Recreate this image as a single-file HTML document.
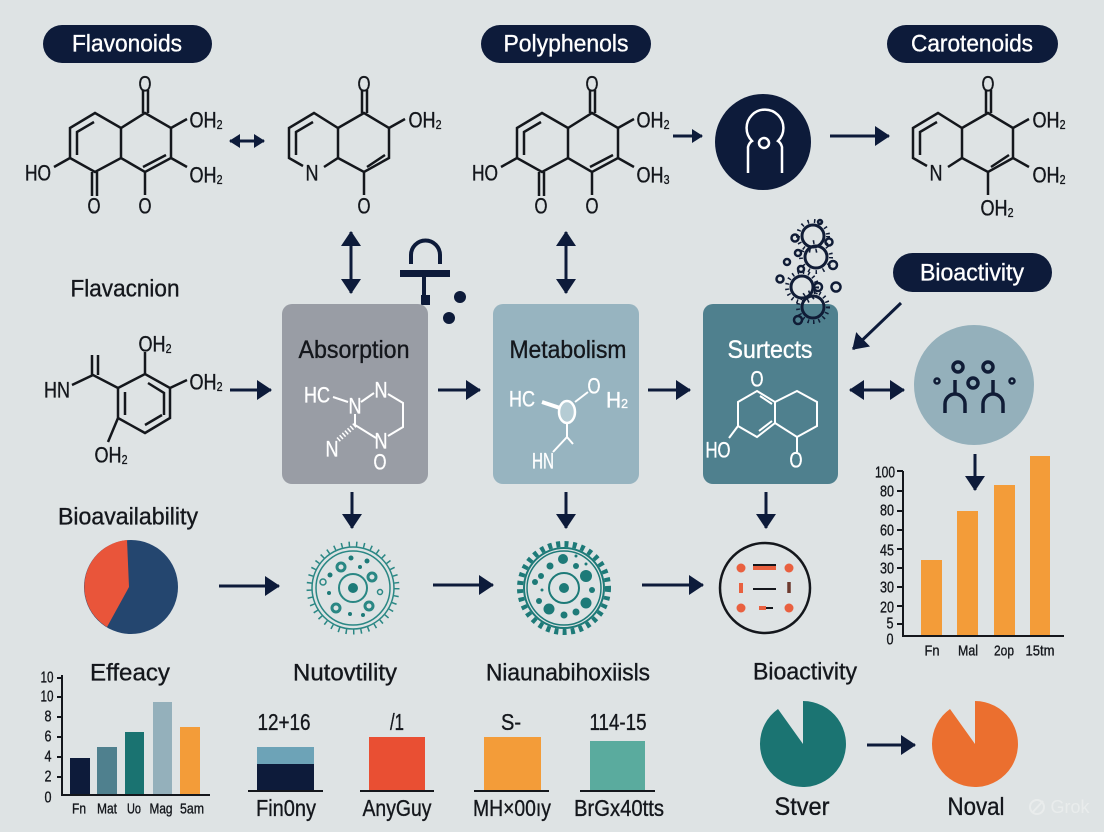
<!DOCTYPE html>
<html><head><meta charset="utf-8"><style>
html,body{margin:0;padding:0;background:#dee3e4}
svg{display:block}
text{font-family:"Liberation Sans",sans-serif;text-anchor:middle;dominant-baseline:central;fill:#14171c;stroke:#14171c;stroke-width:.35}
text.w{fill:#fff;stroke:#fff}
text.wm{fill:#e9ecec;stroke:none}
.chem{font-size:22px}
.sub{font-size:13px}
.t{font-size:24px}
.s{font-size:15px}
.n{font-size:16px}
.l{font-size:23px}
.m{fill:none;stroke:#14171c;stroke-width:2.5}
.wl{fill:none;stroke:#fff;stroke-width:2}
.a{stroke:#0d1b3a;stroke-width:3;fill:none}
.g{fill:#1d7a78}
.k{stroke:#14171c;stroke-width:2;fill:none}
</style></head><body>
<svg width="1104" height="832" viewBox="0 0 1104 832" xmlns="http://www.w3.org/2000/svg">
<defs>
<marker id="h" markerUnits="userSpaceOnUse" markerWidth="16" markerHeight="22" refX="14" refY="11" orient="auto-start-reverse"><path d="M0 1L15 11L0 21Z" fill="#0d1b3a"/></marker>
<marker id="s" markerUnits="userSpaceOnUse" markerWidth="12" markerHeight="16" refX="10" refY="8" orient="auto-start-reverse"><path d="M0 1L11 8L0 15Z" fill="#0d1b3a"/></marker>
<g id="molA"><path class="m" d="M70 128L95 113L121 128L145 113L171 128V158L145 172L121 158L95 172L70 158ZM121 128V158M77 155V132L94 122M143 167L166 155M143 90V113M148 90V113M171 128L187 119M171 158L187 167M70 158L54 167M92 172V196M97 172V196M145 172V195"/></g>
<g id="molB"><path class="m" d="M303 166L289 158V128L314 113L338 128L364 113L389 128V158L364 172L338 158L324 167M338 128V158M296 155V132L313 122M367 167L385 155M362 90V113M367 90V113M389 128L405 119M364 172V195"/></g>
</defs>
<rect width="1104" height="832" fill="#dee3e4"/>

<!-- pills -->
<rect x="43" y="25" width="169" height="38" rx="19" fill="#0d1b3a"/>
<text class="w t" x="127" y="44" textLength="110" lengthAdjust="spacingAndGlyphs">Flavonoids</text>
<rect x="481" y="25" width="170" height="38" rx="19" fill="#0d1b3a"/>
<text class="w t" x="566" y="44" textLength="125" lengthAdjust="spacingAndGlyphs">Polyphenols</text>
<rect x="887" y="25" width="171" height="38" rx="19" fill="#0d1b3a"/>
<text class="w t" x="972" y="44" textLength="122" lengthAdjust="spacingAndGlyphs">Carotenoids</text>
<rect x="893" y="253" width="159" height="39" rx="19.5" fill="#0d1b3a"/>
<text class="w t" x="972" y="273" textLength="104" lengthAdjust="spacingAndGlyphs">Bioactivity</text>

<!-- molecules row 1 -->
<use href="#molA"/>
<text class="chem" x="145" y="84" textLength="13" lengthAdjust="spacingAndGlyphs">O</text>
<text class="chem" x="206" y="120" textLength="33" lengthAdjust="spacingAndGlyphs">OH<tspan class="sub" dy="4">2</tspan></text>
<text class="chem" x="206" y="175" textLength="33" lengthAdjust="spacingAndGlyphs">OH<tspan class="sub" dy="4">2</tspan></text>
<text class="chem" x="38" y="173" textLength="26" lengthAdjust="spacingAndGlyphs">HO</text>
<text class="chem" x="94" y="206" textLength="13" lengthAdjust="spacingAndGlyphs">O</text>
<text class="chem" x="145" y="206" textLength="13" lengthAdjust="spacingAndGlyphs">O</text>

<use href="#molB"/>
<text class="chem" x="364" y="84" textLength="13" lengthAdjust="spacingAndGlyphs">O</text>
<text class="chem" x="425" y="120" textLength="33" lengthAdjust="spacingAndGlyphs">OH<tspan class="sub" dy="4">2</tspan></text>
<text class="chem" x="312" y="173" textLength="13" lengthAdjust="spacingAndGlyphs">N</text>
<text class="chem" x="364" y="206" textLength="13" lengthAdjust="spacingAndGlyphs">O</text>

<use href="#molA" x="447"/>
<text class="chem" x="592" y="84" textLength="13" lengthAdjust="spacingAndGlyphs">O</text>
<text class="chem" x="653" y="120" textLength="33" lengthAdjust="spacingAndGlyphs">OH<tspan class="sub" dy="4">2</tspan></text>
<text class="chem" x="653" y="175" textLength="33" lengthAdjust="spacingAndGlyphs">OH<tspan class="sub" dy="4">3</tspan></text>
<text class="chem" x="485" y="173" textLength="26" lengthAdjust="spacingAndGlyphs">HO</text>
<text class="chem" x="541" y="206" textLength="13" lengthAdjust="spacingAndGlyphs">O</text>
<text class="chem" x="592" y="206" textLength="13" lengthAdjust="spacingAndGlyphs">O</text>

<use href="#molB" x="624"/>
<path class="m" d="M1013 158L1029 167"/>
<text class="chem" x="988" y="84" textLength="13" lengthAdjust="spacingAndGlyphs">O</text>
<text class="chem" x="1049" y="120" textLength="33" lengthAdjust="spacingAndGlyphs">OH<tspan class="sub" dy="4">2</tspan></text>
<text class="chem" x="1049" y="175" textLength="33" lengthAdjust="spacingAndGlyphs">OH<tspan class="sub" dy="4">2</tspan></text>
<text class="chem" x="936" y="173" textLength="13" lengthAdjust="spacingAndGlyphs">N</text>
<text class="chem" x="997" y="208" textLength="33" lengthAdjust="spacingAndGlyphs">OH<tspan class="sub" dy="4">2</tspan></text>

<!-- icon circle -->
<circle cx="763" cy="142" r="48" fill="#0d1b3a"/>
<path d="M748 173V147Q749 143 752 141A18.4 18.4 0 1 1 778 141Q781 143 782 147V173" fill="none" stroke="#fff" stroke-width="2.5"/>
<circle cx="764" cy="143" r="5" fill="none" stroke="#fff" stroke-width="2.5"/>

<!-- arrows top -->
<path class="a" d="M230 141H264" marker-start="url(#s)" marker-end="url(#s)"/>
<path class="a" d="M673 136H702" marker-end="url(#s)"/>
<path class="a" d="M830 136H889" marker-end="url(#h)"/>
<path class="a" d="M351 232V293" marker-start="url(#h)" marker-end="url(#h)"/>
<path class="a" d="M566 232V293" marker-start="url(#h)" marker-end="url(#h)"/>

<!-- lock icon -->
<path d="M411 264V255A14.5 14.5 0 0 1 440 255V264" fill="none" stroke="#0d1b3a" stroke-width="4"/>
<rect x="400" y="270" width="50" height="7" fill="#0d1b3a"/>
<rect x="422" y="277" width="4" height="20" fill="#0d1b3a"/>
<rect x="421" y="295" width="9" height="10" fill="#0d1b3a"/>
<circle cx="460" cy="297" r="6" fill="#0d1b3a"/>
<circle cx="449" cy="318" r="6" fill="#0d1b3a"/>

<!-- boxes -->
<rect x="282" y="304" width="146" height="180" rx="10" fill="#999da5"/>
<rect x="493" y="304" width="146" height="180" rx="10" fill="#97b4c0"/>
<rect x="703" y="304" width="135" height="180" rx="10" fill="#4f808e"/>
<text x="354" y="350" font-size="25" textLength="111" lengthAdjust="spacingAndGlyphs">Absorption</text>
<text x="568" y="350" font-size="25" textLength="117" lengthAdjust="spacingAndGlyphs">Metabolism</text>
<text class="w" x="770" y="350" font-size="25" textLength="85" lengthAdjust="spacingAndGlyphs">Surtects</text>

<!-- absorption chem -->
<path class="wl" d="M333 397L348 402M361 402L374 393M388 394L403 403V427L388 436M355 414V425L376 438"/>
<path d="M355 425L338 440" stroke="#fff" stroke-width="5" stroke-dasharray="1.5 2" fill="none"/>
<text class="w chem" x="317" y="395" textLength="26" lengthAdjust="spacingAndGlyphs">HC</text>
<text class="w chem" x="355" y="406" textLength="13" lengthAdjust="spacingAndGlyphs">N</text>
<text class="w chem" x="381" y="390" textLength="13" lengthAdjust="spacingAndGlyphs">N</text>
<text class="w chem" x="332" y="449" textLength="13" lengthAdjust="spacingAndGlyphs">N</text>
<text class="w chem" x="381" y="441" textLength="13" lengthAdjust="spacingAndGlyphs">N</text>
<text class="w chem" x="380" y="462" textLength="13" lengthAdjust="spacingAndGlyphs">O</text>

<!-- metabolism chem -->
<path d="M542 402L560 408" stroke="#fff" stroke-width="4" fill="none"/>
<ellipse cx="567" cy="412" rx="8" ry="11" fill="#b5ccd4" stroke="#fff" stroke-width="2.5"/>
<path class="wl" d="M575 402L588 392M567 423V437L553 452M567 437L573 444"/>
<text class="w chem" x="522" y="399" textLength="26" lengthAdjust="spacingAndGlyphs">HC</text>
<text class="w chem" x="594" y="386" textLength="13" lengthAdjust="spacingAndGlyphs">O</text>
<text class="w chem" x="617" y="400" textLength="22" lengthAdjust="spacingAndGlyphs">H<tspan class="sub" dy="3">2</tspan></text>
<text class="w chem" x="543" y="461" textLength="22" lengthAdjust="spacingAndGlyphs">HN</text>

<!-- surtects chem -->
<path class="wl" d="M757 391L775 402V423L757 437L738 426V402ZM775 402L797 391L817 402V426L797 437L775 423M760 396L772 404M759 431L772 421M738 426L729 438M797 437V452"/>
<text class="w chem" x="757" y="379" textLength="13" lengthAdjust="spacingAndGlyphs">O</text>
<text class="w chem" x="718" y="450" textLength="25" lengthAdjust="spacingAndGlyphs">HO</text>
<text class="w chem" x="796" y="460" textLength="13" lengthAdjust="spacingAndGlyphs">O</text>

<!-- bacteria cluster -->
<g fill="none" stroke="#101c36">
<circle cx="813" cy="236" r="11" stroke-width="3"/><circle cx="813" cy="236" r="15" stroke-width="4" stroke-dasharray="1.5 5"/>
<circle cx="816" cy="257" r="11" stroke-width="3"/><circle cx="816" cy="257" r="15" stroke-width="4" stroke-dasharray="1.5 6"/>
<circle cx="802" cy="287" r="11" stroke-width="3"/><circle cx="802" cy="287" r="15" stroke-width="4" stroke-dasharray="1.5 4"/>
<circle cx="813" cy="307" r="11" stroke-width="3"/><circle cx="813" cy="307" r="15" stroke-width="4" stroke-dasharray="1.5 4"/>
<g stroke-width="2.5"><circle cx="795" cy="238" r="3.5"/><circle cx="829" cy="242" r="3.5"/><circle cx="798" cy="253" r="3"/><circle cx="787" cy="262" r="3"/><circle cx="833" cy="265" r="4"/><circle cx="801" cy="269" r="3"/><circle cx="780" cy="279" r="3.5"/><circle cx="836" cy="287" r="4.5"/><circle cx="798" cy="320" r="4"/><circle cx="820" cy="222" r="2"/><circle cx="818" cy="287" r="4"/></g>
</g>

<!-- right circle -->
<circle cx="974" cy="385" r="60" fill="#94b0bb"/>
<g fill="none" stroke="#101c36" stroke-width="3.5">
<circle cx="958" cy="367" r="5"/><circle cx="988" cy="367" r="5"/><circle cx="973" cy="383" r="5"/>
<circle cx="937" cy="381" r="2.5" stroke-width="2.5"/><circle cx="1012" cy="381" r="2.5" stroke-width="2.5"/>
<path d="M955 380V394M945 413V404A10 10 0 0 1 965 404V413M993 380V394M983 413V404A10 10 0 0 1 1003 404V413"/>
</g>

<!-- Flavacnion -->
<text class="t" x="125" y="289" textLength="109" lengthAdjust="spacingAndGlyphs">Flavacnion</text>
<path class="m" d="M118 388L145 374L170 388V418L145 433L118 418ZM125 392V415M148 383L164 393V415M145 425L162 415M72 385L93 375L118 388M92 355V375M98 355V375M145 352V374M170 388L187 380M118 418L108 442"/>
<text class="chem" x="57" y="390" textLength="26" lengthAdjust="spacingAndGlyphs">HN</text>
<text class="chem" x="155" y="344" textLength="33" lengthAdjust="spacingAndGlyphs">OH<tspan class="sub" dy="4">2</tspan></text>
<text class="chem" x="206" y="382" textLength="33" lengthAdjust="spacingAndGlyphs">OH<tspan class="sub" dy="4">2</tspan></text>
<text class="chem" x="111" y="455" textLength="33" lengthAdjust="spacingAndGlyphs">OH<tspan class="sub" dy="4">2</tspan></text>

<!-- mid arrows -->
<path class="a" d="M230 390H271" marker-end="url(#h)"/>
<path class="a" d="M438 390H480" marker-end="url(#h)"/>
<path class="a" d="M648 390H690" marker-end="url(#h)"/>
<path class="a" d="M850 390H904" marker-start="url(#h)" marker-end="url(#h)"/>
<path class="a" d="M901 303L853 349" marker-end="url(#h)"/>
<path class="a" d="M352 492V528" marker-end="url(#h)"/>
<path class="a" d="M566 492V528" marker-end="url(#h)"/>
<path class="a" d="M766 492V528" marker-end="url(#h)"/>
<path class="a" d="M975 454V490" marker-end="url(#h)"/>

<!-- row 3 -->
<text class="t" x="128" y="517" textLength="140" lengthAdjust="spacingAndGlyphs">Bioavailability</text>
<circle cx="131" cy="587" r="47" fill="#24466f"/>
<path d="M129 587L127 540A47 47 0 0 0 107 627Z" fill="#e9553a"/>
<path class="a" d="M219 586H279" marker-end="url(#h)"/>
<path class="a" d="M433 585H493" marker-end="url(#h)"/>
<path class="a" d="M642 585H703" marker-end="url(#h)"/>

<!-- gear 1 -->
<g fill="none" stroke="#2a8784">
<circle cx="353" cy="588" r="44" stroke-width="5" stroke-dasharray="1.5 6"/>
<circle cx="353" cy="588" r="41" stroke-width="1.5"/>
<circle cx="353" cy="588" r="37" stroke-width="1.5"/>
<circle cx="353" cy="588" r="14" stroke-width="2"/>
<circle cx="341" cy="567" r="4" stroke-width="3"/><circle cx="372" cy="577" r="4" stroke-width="3"/><circle cx="323" cy="582" r="3" stroke-width="1.5"/><circle cx="380" cy="592" r="2.5" stroke-width="1.5"/><circle cx="336" cy="608" r="4" stroke-width="3"/><circle cx="369" cy="606" r="4" stroke-width="3"/>
</g>
<g class="g"><circle cx="353" cy="588" r="5"/><circle cx="351" cy="558" r="2.5"/><circle cx="367" cy="561" r="2.5"/><circle cx="360" cy="567" r="2"/><circle cx="330" cy="575" r="2.5"/><circle cx="329" cy="593" r="2"/><circle cx="350" cy="614" r="2"/><circle cx="363" cy="615" r="2"/></g>

<!-- gear 2 -->
<g fill="none" stroke="#1d7a78">
<circle cx="564" cy="588" r="44" stroke-width="6" stroke-dasharray="4 4.3"/>
<circle cx="564" cy="588" r="40" stroke-width="2"/>
<circle cx="564" cy="588" r="37" stroke-width="1.5"/>
<circle cx="564" cy="588" r="15" stroke-width="2"/>
</g>
<g class="g"><circle cx="564" cy="588" r="5"/><circle cx="563" cy="559" r="5"/><circle cx="550" cy="566" r="3.5"/><circle cx="576" cy="566" r="3"/><circle cx="586" cy="564" r="1.5"/><circle cx="576" cy="556" r="1.5"/><circle cx="541" cy="576" r="3"/><circle cx="535" cy="582" r="3"/><circle cx="586" cy="576" r="6"/><circle cx="592" cy="590" r="3"/><circle cx="542" cy="590" r="1.5"/><circle cx="539" cy="601" r="3"/><circle cx="549" cy="609" r="5.5"/><circle cx="564" cy="615" r="3.5"/><circle cx="576" cy="612" r="3.5"/><circle cx="586" cy="603" r="5.5"/></g>

<!-- circle 3 -->
<circle cx="765" cy="588" r="45" fill="none" stroke="#14171c" stroke-width="2.5"/>
<g fill="#e9603f"><circle cx="741" cy="568" r="4.5"/><circle cx="789" cy="568" r="4.5"/><circle cx="741" cy="608" r="4.5"/><circle cx="789" cy="608" r="4.5"/></g>
<rect x="753" y="566" width="23" height="4" fill="#e9603f"/><rect x="753" y="564" width="23" height="2" fill="#14171c"/>
<path d="M741 583V593" stroke="#e9603f" stroke-width="4"/>
<path d="M753 589H776" stroke="#14171c" stroke-width="2"/>
<path d="M789 582V593" stroke="#6d3a2e" stroke-width="3.5"/>
<path d="M759 608H766" stroke="#e9603f" stroke-width="4"/><path d="M766 608H773" stroke="#14171c" stroke-width="2"/>

<!-- right chart -->
<g fill="#f39c39"><rect x="921" y="560" width="21" height="75"/><rect x="957" y="511" width="21" height="124"/><rect x="994" y="485" width="21" height="150"/><rect x="1030" y="456" width="20" height="179"/></g>
<path class="k" d="M903 471V636H1064M897 471H903M897 491H903M897 511H903M897 530H903M897 549H903M897 568H903M897 587H903M897 606H903M897 624H903"/>
<text class="n" x="885" y="473" textLength="20" lengthAdjust="spacingAndGlyphs">100</text>
<text class="n" x="887" y="492" textLength="14" lengthAdjust="spacingAndGlyphs">80</text><text class="n" x="887" y="511" textLength="14" lengthAdjust="spacingAndGlyphs">80</text><text class="n" x="887" y="531" textLength="14" lengthAdjust="spacingAndGlyphs">60</text><text class="n" x="887" y="551" textLength="14" lengthAdjust="spacingAndGlyphs">45</text><text class="n" x="887" y="569" textLength="14" lengthAdjust="spacingAndGlyphs">30</text><text class="n" x="887" y="588" textLength="14" lengthAdjust="spacingAndGlyphs">30</text><text class="n" x="887" y="608" textLength="14" lengthAdjust="spacingAndGlyphs">20</text><text class="n" x="890" y="624" textLength="7" lengthAdjust="spacingAndGlyphs">5</text><text class="n" x="890" y="640" textLength="7" lengthAdjust="spacingAndGlyphs">0</text>
<text class="s" x="932" y="651" textLength="15" lengthAdjust="spacingAndGlyphs">Fn</text><text class="s" x="968" y="651" textLength="20" lengthAdjust="spacingAndGlyphs">Mal</text><text class="s" x="1004" y="651" textLength="20" lengthAdjust="spacingAndGlyphs">2op</text><text class="s" x="1040" y="651" textLength="29" lengthAdjust="spacingAndGlyphs">15tm</text>

<!-- left chart -->
<rect x="70" y="758" width="20" height="37" fill="#0d1b3a"/>
<rect x="97" y="747" width="20" height="48" fill="#4f808e"/>
<rect x="125" y="732" width="19" height="63" fill="#1a7371"/>
<rect x="153" y="702" width="19" height="93" fill="#94b0bb"/>
<rect x="180" y="727" width="20" height="68" fill="#f39c39"/>
<path class="k" d="M62 675V795H210M57 678H62M57 697H62M57 717H62M57 737H62M57 757H62M57 777H62"/>
<text class="n" x="47" y="678" textLength="13" lengthAdjust="spacingAndGlyphs">10</text><text class="n" x="47" y="697" textLength="13" lengthAdjust="spacingAndGlyphs">10</text><text class="n" x="48" y="717" textLength="7" lengthAdjust="spacingAndGlyphs">8</text><text class="n" x="48" y="737" textLength="7" lengthAdjust="spacingAndGlyphs">6</text><text class="n" x="48" y="757" textLength="7" lengthAdjust="spacingAndGlyphs">4</text><text class="n" x="48" y="777" textLength="7" lengthAdjust="spacingAndGlyphs">2</text><text class="n" x="48" y="798" textLength="7" lengthAdjust="spacingAndGlyphs">0</text>
<text class="s" x="79" y="809" textLength="14" lengthAdjust="spacingAndGlyphs">Fn</text><text class="s" x="107" y="809" textLength="20" lengthAdjust="spacingAndGlyphs">Mat</text><text class="s" x="134" y="809" textLength="14" lengthAdjust="spacingAndGlyphs">Uo</text><text class="s" x="161" y="809" textLength="23" lengthAdjust="spacingAndGlyphs">Mag</text><text class="s" x="192" y="809" textLength="24" lengthAdjust="spacingAndGlyphs">5am</text>

<!-- row 4 titles -->
<text class="t" x="130" y="673" textLength="80" lengthAdjust="spacingAndGlyphs">Effeacy</text>
<text class="t" x="345" y="673" textLength="104" lengthAdjust="spacingAndGlyphs">Nutovtility</text>
<text class="t" x="568" y="673" textLength="164" lengthAdjust="spacingAndGlyphs">Niaunabihoxiisls</text>
<text class="t" x="805" y="672" textLength="104" lengthAdjust="spacingAndGlyphs">Bioactivity</text>

<text class="l" x="284" y="722" textLength="53" lengthAdjust="spacingAndGlyphs">12+16</text>
<text class="l" x="397" y="722" textLength="14" lengthAdjust="spacingAndGlyphs">/1</text>
<text class="l" x="511" y="722" textLength="20" lengthAdjust="spacingAndGlyphs">S-</text>
<text class="l" x="618" y="722" textLength="57" lengthAdjust="spacingAndGlyphs">114-15</text>

<rect x="257" y="747" width="57" height="17" fill="#6da3b7"/>
<rect x="257" y="764" width="57" height="26" fill="#0d1b3a"/>
<rect x="369" y="737" width="56" height="53" fill="#e94f33"/>
<rect x="484" y="737" width="57" height="53" fill="#f39c39"/>
<rect x="590" y="741" width="55" height="49" fill="#5aab9e"/>
<path class="k" d="M248 791H323M360 791H434M474 791H549M580 791H655"/>
<text class="l" x="286" y="808" textLength="60" lengthAdjust="spacingAndGlyphs">Fin0ny</text>
<text class="l" x="397" y="808" textLength="69" lengthAdjust="spacingAndGlyphs">AnyGuy</text>
<text class="l" x="512" y="808" textLength="78" lengthAdjust="spacingAndGlyphs">MH×00ıy</text>
<text class="l" x="619" y="808" textLength="90" lengthAdjust="spacingAndGlyphs">BrGx40tts</text>

<!-- bottom pies -->
<path d="M803 744V701A43 43 0 1 1 778 709Z" fill="#1b7472"/>
<path d="M975 744V701A43 43 0 1 1 950 709Z" fill="#eb6f2f"/>
<path class="a" d="M867 745H915" marker-end="url(#h)"/>
<text x="802" y="807" font-size="25" textLength="55" lengthAdjust="spacingAndGlyphs">Stver</text>
<text x="976" y="807" font-size="25" textLength="57" lengthAdjust="spacingAndGlyphs">Noval</text>

<!-- watermark -->
<circle cx="1037" cy="807" r="7" fill="none" stroke="#e9ecec" stroke-width="2"/>
<path d="M1032 813L1043 801" stroke="#e9ecec" stroke-width="2"/>
<text class="wm" x="1070" y="807" font-size="18">Grok</text>
</svg>
</body></html>
